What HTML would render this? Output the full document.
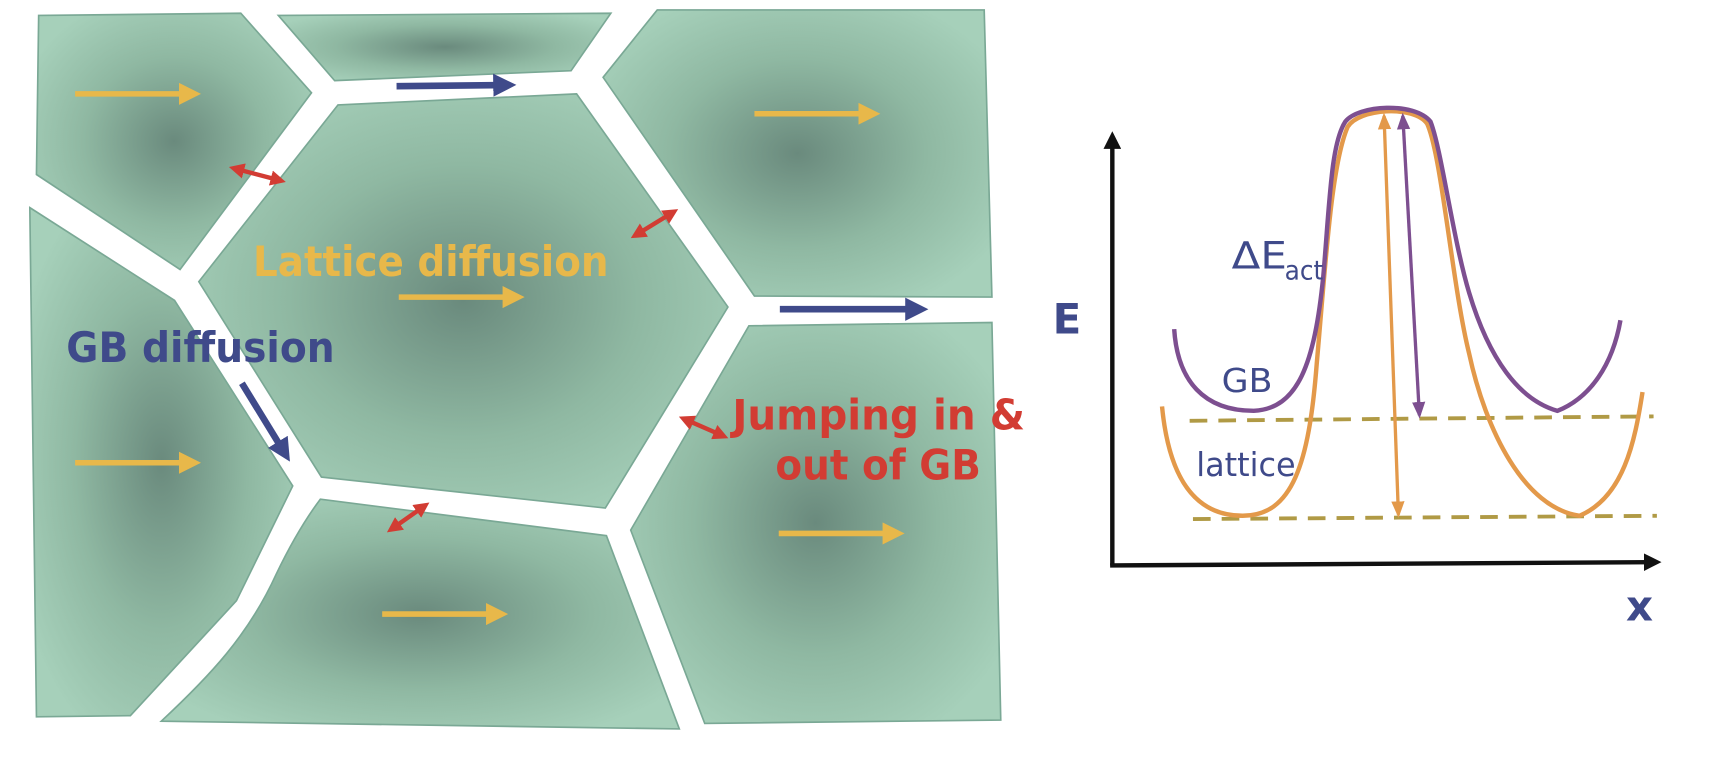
<!DOCTYPE html>
<html><head><meta charset="utf-8"><style>
html,body{margin:0;padding:0;background:#fff;width:1732px;height:772px;overflow:hidden}
svg{display:block}
</style></head><body>
<svg width="1732" height="772" viewBox="0 0 1568 699" preserveAspectRatio="none" xmlns="http://www.w3.org/2000/svg">
<defs>
<radialGradient id="g" cx="0.5" cy="0.5" r="0.6">
<stop offset="0" stop-color="#6a8a7d"/><stop offset="0.55" stop-color="#8fb8a2"/><stop offset="1" stop-color="#a6d0ba"/>
</radialGradient>
<marker id="ay" viewBox="0 0 10 10" refX="5" refY="5" markerWidth="4" markerHeight="4" orient="auto"><path d="M0,0L10,5L0,10z" fill="#e8b84a"/></marker>
<marker id="ab" viewBox="0 0 10 10" refX="5" refY="5" markerWidth="3.5" markerHeight="3.5" orient="auto"><path d="M0,0L10,5L0,10z" fill="#3f4a8a"/></marker>
<marker id="ar" viewBox="0 0 10 10" refX="5" refY="5" markerWidth="3.5" markerHeight="3.5" orient="auto-start-reverse"><path d="M0,0L10,5L0,10z" fill="#d23c33"/></marker>
<marker id="ak" viewBox="0 0 10 10" refX="3" refY="5" markerWidth="4" markerHeight="4" orient="auto"><path d="M0,0L10,5L0,10z" fill="#111"/></marker>
<marker id="ao" viewBox="0 0 10 10" refX="8" refY="5" markerWidth="5" markerHeight="5" orient="auto-start-reverse"><path d="M0,1L10,5L0,9z" fill="#e3994a"/></marker>
<marker id="ap" viewBox="0 0 10 10" refX="8" refY="5" markerWidth="5" markerHeight="5" orient="auto-start-reverse"><path d="M0,1L10,5L0,9z" fill="#7d4f90"/></marker>
</defs>
<g fill="url(#g)" stroke="#7aa895" stroke-width="1.5">
<polygon points="35,14 218,12 282,84 163,244 33,158"/>
<polygon points="252,14 553,12 517,64 303,73"/>
<polygon points="595,9 891,9 898,269 683,268 546,70"/>
<polygon points="306,95 522,85 659,278 548,460 291,432 180,255"/>
<polygon points="27,188 158,272 265,440 214,544 118,648 33,649"/>
<path d="M290,452 L549,485 L615,660 L146,653 C190,612 225,575 250,520 C262,495 275,472 290,452Z"/>
<polygon points="678,295 898,292 906,652 638,655 571,480"/>
</g>
<g stroke="#e8b84a" stroke-width="5" marker-end="url(#ay)">
<line x1="68" y1="85" x2="172" y2="85"/><line x1="683" y1="103" x2="787" y2="103"/>
<line x1="361" y1="269" x2="465" y2="269"/><line x1="68" y1="419" x2="172" y2="419"/>
<line x1="346" y1="556" x2="450" y2="556"/><line x1="705" y1="483" x2="809" y2="483"/>
</g>
<g stroke="#3f4a8a" stroke-width="6" marker-end="url(#ab)">
<line x1="359" y1="78" x2="457" y2="77"/><line x1="706" y1="280" x2="830" y2="280"/>
<line x1="219" y1="347" x2="257" y2="409"/>
</g>
<g stroke="#d23c33" stroke-width="4" marker-start="url(#ar)" marker-end="url(#ar)">
<line x1="214" y1="153" x2="252" y2="163"/><line x1="577" y1="212" x2="608" y2="193"/>
<line x1="621" y1="380" x2="653" y2="394"/><line x1="356" y1="478" x2="383" y2="459"/>
</g>
<g font-family="DejaVu Sans, Liberation Sans, sans-serif" font-weight="bold">
<text x="229" y="250" font-size="38" fill="#e8b84a" textLength="322" lengthAdjust="spacingAndGlyphs">Lattice diffusion</text>
<text x="60" y="328" font-size="38" fill="#3f4a8a" textLength="243" lengthAdjust="spacingAndGlyphs">GB diffusion</text>
<text x="663" y="389" font-size="38" fill="#d23c33" textLength="265" lengthAdjust="spacingAndGlyphs">Jumping in &amp;</text>
<text x="702" y="434" font-size="38" fill="#d23c33" textLength="186" lengthAdjust="spacingAndGlyphs">out of GB</text>
<text x="953" y="302" font-size="38" fill="#3f4a8a">E</text>
<text x="1472" y="562" font-size="38" fill="#3f4a8a">x</text>
</g>
<line x1="1007" y1="512" x2="1007" y2="130" stroke="#111" stroke-width="4" marker-end="url(#ak)"/>
<line x1="1005" y1="512" x2="1493" y2="509" stroke="#111" stroke-width="4" marker-end="url(#ak)"/>
<g stroke="#b09a45" stroke-width="3.5" stroke-dasharray="16 10">
<line x1="1077" y1="381" x2="1497" y2="377"/><line x1="1080" y1="470" x2="1500" y2="467"/>
</g>
<path d="M1052,368 C1058,430 1080,467 1125,467 C1170,467 1185,420 1192,330 C1200,240 1205,150 1220,115 C1230,98 1280,95 1292,112 C1305,140 1315,260 1330,320 C1345,390 1380,460 1430,467 C1470,450 1480,400 1487,355" fill="none" stroke="#e3994a" stroke-width="4"/>
<path d="M1063,298 C1066,345 1090,372 1135,372 C1175,370 1190,330 1198,250 C1204,180 1205,130 1218,110 C1230,95 1280,92 1295,110 C1305,135 1315,215 1330,265 C1348,325 1375,362 1410,372 C1440,360 1460,330 1467,290" fill="none" stroke="#7d4f90" stroke-width="4"/>
<line x1="1253" y1="105" x2="1266" y2="466" stroke="#e3994a" stroke-width="3" marker-start="url(#ao)" marker-end="url(#ao)"/>
<line x1="1270" y1="105" x2="1285" y2="376" stroke="#7d4f90" stroke-width="3" marker-start="url(#ap)" marker-end="url(#ap)"/>
<g font-family="DejaVu Sans, Liberation Sans, sans-serif" fill="#3f4a8a">
<text x="1115" y="243" font-size="34" textLength="50" lengthAdjust="spacingAndGlyphs">ΔE</text>
<text x="1163" y="253" font-size="24" textLength="35" lengthAdjust="spacingAndGlyphs">act</text>
<text x="1106" y="355" font-size="30" textLength="46" lengthAdjust="spacingAndGlyphs">GB</text>
<text x="1083" y="431" font-size="30" textLength="90" lengthAdjust="spacingAndGlyphs">lattice</text>
</g>
</svg>
</body></html>
